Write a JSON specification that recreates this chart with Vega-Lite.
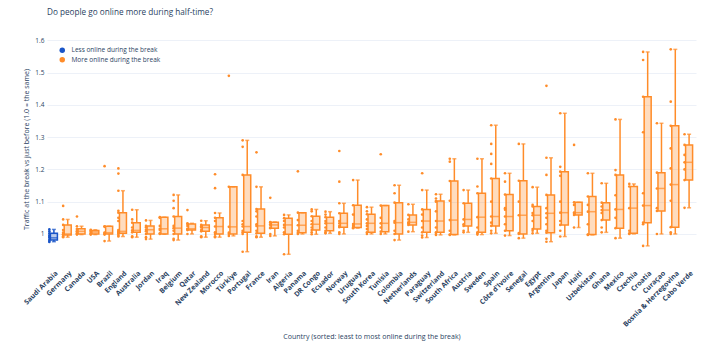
{
  "$schema": "https://vega.github.io/schema/vega-lite/v6.json",
  "autosize": {"type": "none"},
  "width": 649,
  "height": 233,
  "padding": {"left": 47, "top": 30, "right": 19, "bottom": 81},
  "background": "white",
  "config": {
    "font": "Open Sans",
    "view": {"stroke": null},
    "axis": {"labelColor": "#2a3f5f", "titleColor": "#2a3f5f", "titleFontWeight": "normal", "domain": false, "ticks": false},
    "axisY": {"labelOverlap": false, "tickCount": 7, "labelFontSize": 6.5, "labelPadding": 3, "grid": true, "gridColor": "#edf1f8", "gridWidth": 1, "format": "~g"}
  },
  "title": {"text": "Do people go online more during half-time?", "anchor": "start", "frame": "group", "offset": 13, "fontSize": 8.2, "fontWeight": "normal", "color": "#2a3f5f"},
  "datasets": {
    "boxes": [
      {"c": "Saudi Arabia", "g": "Less online during the break", "lo": 0.976, "q1": 0.981, "md": 0.988, "q3": 1.002, "hi": 1.014},
      {"c": "Germany", "g": "More online during the break", "lo": 0.99, "q1": 0.997, "md": 1.0, "q3": 1.028, "hi": 1.045},
      {"c": "Canada", "g": "More online during the break", "lo": 0.998, "q1": 1.0, "md": 1.008, "q3": 1.016, "hi": 1.024},
      {"c": "USA", "g": "More online during the break", "lo": 0.998, "q1": 1.0, "md": 1.006, "q3": 1.011, "hi": 1.013},
      {"c": "Brazil", "g": "More online during the break", "lo": 0.978, "q1": 1.0, "md": 1.004, "q3": 1.024, "hi": 1.024},
      {"c": "England", "g": "More online during the break", "lo": 0.992, "q1": 1.002, "md": 1.008, "q3": 1.066, "hi": 1.134},
      {"c": "Australia", "g": "More online during the break", "lo": 0.99, "q1": 1.005, "md": 1.011, "q3": 1.035, "hi": 1.075},
      {"c": "Jordan", "g": "More online during the break", "lo": 0.984, "q1": 1.0, "md": 1.013, "q3": 1.025, "hi": 1.042},
      {"c": "Iraq", "g": "More online during the break", "lo": 0.999, "q1": 1.0, "md": 1.016, "q3": 1.052, "hi": 1.052},
      {"c": "Belgium", "g": "More online during the break", "lo": 0.981, "q1": 1.0, "md": 1.018, "q3": 1.054, "hi": 1.121},
      {"c": "Qatar", "g": "More online during the break", "lo": 1.0, "q1": 1.012, "md": 1.016, "q3": 1.031, "hi": 1.033},
      {"c": "New Zealand", "g": "More online during the break", "lo": 0.99, "q1": 1.008, "md": 1.02, "q3": 1.028, "hi": 1.041},
      {"c": "Morocco", "g": "More online during the break", "lo": 0.99, "q1": 1.0, "md": 1.023, "q3": 1.05, "hi": 1.065},
      {"c": "Türkiye", "g": "More online during the break", "lo": 0.994, "q1": 1.0, "md": 1.022, "q3": 1.146, "hi": 1.146},
      {"c": "Portugal", "g": "More online during the break", "lo": 0.945, "q1": 1.005, "md": 1.023, "q3": 1.183, "hi": 1.29},
      {"c": "France", "g": "More online during the break", "lo": 0.99, "q1": 1.002, "md": 1.025, "q3": 1.077, "hi": 1.146},
      {"c": "Iran", "g": "More online during the break", "lo": 0.994, "q1": 1.018, "md": 1.028, "q3": 1.036, "hi": 1.037},
      {"c": "Algeria", "g": "More online during the break", "lo": 0.937, "q1": 0.999, "md": 1.028, "q3": 1.049, "hi": 1.059},
      {"c": "Panama", "g": "More online during the break", "lo": 1.0, "q1": 1.004, "md": 1.027, "q3": 1.066, "hi": 1.066},
      {"c": "DR Congo", "g": "More online during the break", "lo": 0.999, "q1": 1.012, "md": 1.03, "q3": 1.055, "hi": 1.076},
      {"c": "Ecuador", "g": "More online during the break", "lo": 1.002, "q1": 1.01, "md": 1.033, "q3": 1.052, "hi": 1.069},
      {"c": "Norway", "g": "More online during the break", "lo": 1.0, "q1": 1.021, "md": 1.033, "q3": 1.064, "hi": 1.095},
      {"c": "Uruguay", "g": "More online during the break", "lo": 1.018, "q1": 1.02, "md": 1.031, "q3": 1.089, "hi": 1.167},
      {"c": "South Korea", "g": "More online during the break", "lo": 1.0, "q1": 1.005, "md": 1.033, "q3": 1.061, "hi": 1.083},
      {"c": "Tunisia", "g": "More online during the break", "lo": 1.0, "q1": 1.007, "md": 1.033, "q3": 1.088, "hi": 1.088},
      {"c": "Colombia", "g": "More online during the break", "lo": 0.981, "q1": 1.0, "md": 1.035, "q3": 1.097, "hi": 1.151},
      {"c": "Netherlands", "g": "More online during the break", "lo": 1.007, "q1": 1.028, "md": 1.036, "q3": 1.059, "hi": 1.092},
      {"c": "Paraguay", "g": "More online during the break", "lo": 0.989, "q1": 1.005, "md": 1.04, "q3": 1.076, "hi": 1.136},
      {"c": "Switzerland", "g": "More online during the break", "lo": 0.997, "q1": 1.005, "md": 1.04, "q3": 1.102, "hi": 1.123},
      {"c": "South Africa", "g": "More online during the break", "lo": 0.997, "q1": 0.998, "md": 1.043, "q3": 1.164, "hi": 1.233},
      {"c": "Austria", "g": "More online during the break", "lo": 1.005, "q1": 1.025, "md": 1.045, "q3": 1.095, "hi": 1.136},
      {"c": "Sweden", "g": "More online during the break", "lo": 0.998, "q1": 1.005, "md": 1.052, "q3": 1.126, "hi": 1.233},
      {"c": "Spain", "g": "More online during the break", "lo": 1.002, "q1": 1.025, "md": 1.054, "q3": 1.172, "hi": 1.337},
      {"c": "Côte d'Ivoire", "g": "More online during the break", "lo": 0.995, "q1": 1.01, "md": 1.054, "q3": 1.122, "hi": 1.188},
      {"c": "Senegal", "g": "More online during the break", "lo": 0.987, "q1": 1.0, "md": 1.058, "q3": 1.165, "hi": 1.279},
      {"c": "Egypt", "g": "More online during the break", "lo": 1.002, "q1": 1.015, "md": 1.058, "q3": 1.085, "hi": 1.145},
      {"c": "Argentina", "g": "More online during the break", "lo": 0.976, "q1": 1.004, "md": 1.064, "q3": 1.121, "hi": 1.236},
      {"c": "Japan", "g": "More online during the break", "lo": 0.992, "q1": 1.028, "md": 1.066, "q3": 1.193, "hi": 1.374},
      {"c": "Haiti", "g": "More online during the break", "lo": 1.02, "q1": 1.059, "md": 1.066, "q3": 1.098, "hi": 1.098},
      {"c": "Uzbekistan", "g": "More online during the break", "lo": 0.997, "q1": 0.998, "md": 1.069, "q3": 1.116, "hi": 1.188},
      {"c": "Ghana", "g": "More online during the break", "lo": 1.005, "q1": 1.043, "md": 1.074, "q3": 1.097, "hi": 1.157},
      {"c": "Mexico", "g": "More online during the break", "lo": 0.987, "q1": 1.018, "md": 1.076, "q3": 1.183, "hi": 1.355},
      {"c": "Czechia", "g": "More online during the break", "lo": 1.0, "q1": 1.002, "md": 1.08, "q3": 1.147, "hi": 1.155},
      {"c": "Croatia", "g": "More online during the break", "lo": 0.963, "q1": 1.035, "md": 1.088, "q3": 1.425, "hi": 1.564},
      {"c": "Curaçao", "g": "More online during the break", "lo": 1.0, "q1": 1.071, "md": 1.141, "q3": 1.19, "hi": 1.343},
      {"c": "Bosnia & Herzegovina", "g": "More online during the break", "lo": 1.0, "q1": 1.021, "md": 1.153, "q3": 1.335, "hi": 1.572},
      {"c": "Cabo Verde", "g": "More online during the break", "lo": 1.081, "q1": 1.167, "md": 1.222, "q3": 1.276, "hi": 1.309}
    ],
    "pts": [
      {"c": "Saudi Arabia", "v": 0.975}, {"c": "Saudi Arabia", "v": 0.978}, {"c": "Saudi Arabia", "v": 0.982}, {"c": "Saudi Arabia", "v": 0.988}, {"c": "Saudi Arabia", "v": 0.991}, {"c": "Saudi Arabia", "v": 0.996}, {"c": "Saudi Arabia", "v": 1.002}, {"c": "Saudi Arabia", "v": 1.008}, {"c": "Saudi Arabia", "v": 1.014},
      {"c": "Germany", "v": 0.99}, {"c": "Germany", "v": 0.993}, {"c": "Germany", "v": 0.997}, {"c": "Germany", "v": 0.999}, {"c": "Germany", "v": 1.0}, {"c": "Germany", "v": 1.004}, {"c": "Germany", "v": 1.012}, {"c": "Germany", "v": 1.028}, {"c": "Germany", "v": 1.045}, {"c": "Germany", "v": 1.087},
      {"c": "Canada", "v": 0.998}, {"c": "Canada", "v": 1.0}, {"c": "Canada", "v": 1.002}, {"c": "Canada", "v": 1.006}, {"c": "Canada", "v": 1.008}, {"c": "Canada", "v": 1.012}, {"c": "Canada", "v": 1.016}, {"c": "Canada", "v": 1.024}, {"c": "Canada", "v": 1.054},
      {"c": "USA", "v": 0.998}, {"c": "USA", "v": 1.0}, {"c": "USA", "v": 1.002}, {"c": "USA", "v": 1.006}, {"c": "USA", "v": 1.009}, {"c": "USA", "v": 1.011}, {"c": "USA", "v": 1.013},
      {"c": "Brazil", "v": 0.978}, {"c": "Brazil", "v": 0.998}, {"c": "Brazil", "v": 1.0}, {"c": "Brazil", "v": 1.003}, {"c": "Brazil", "v": 1.004}, {"c": "Brazil", "v": 1.022}, {"c": "Brazil", "v": 1.024}, {"c": "Brazil", "v": 1.21},
      {"c": "England", "v": 0.992}, {"c": "England", "v": 0.995}, {"c": "England", "v": 1.0}, {"c": "England", "v": 1.002}, {"c": "England", "v": 1.005}, {"c": "England", "v": 1.008}, {"c": "England", "v": 1.012}, {"c": "England", "v": 1.04}, {"c": "England", "v": 1.05}, {"c": "England", "v": 1.066}, {"c": "England", "v": 1.072}, {"c": "England", "v": 1.134}, {"c": "England", "v": 1.187}, {"c": "England", "v": 1.203},
      {"c": "Australia", "v": 0.99}, {"c": "Australia", "v": 0.993}, {"c": "Australia", "v": 1.005}, {"c": "Australia", "v": 1.011}, {"c": "Australia", "v": 1.02}, {"c": "Australia", "v": 1.035}, {"c": "Australia", "v": 1.045}, {"c": "Australia", "v": 1.075},
      {"c": "Jordan", "v": 0.984}, {"c": "Jordan", "v": 0.99}, {"c": "Jordan", "v": 1.0}, {"c": "Jordan", "v": 1.008}, {"c": "Jordan", "v": 1.013}, {"c": "Jordan", "v": 1.02}, {"c": "Jordan", "v": 1.025}, {"c": "Jordan", "v": 1.042},
      {"c": "Iraq", "v": 1.0}, {"c": "Iraq", "v": 1.002}, {"c": "Iraq", "v": 1.012}, {"c": "Iraq", "v": 1.016}, {"c": "Iraq", "v": 1.025}, {"c": "Iraq", "v": 1.05}, {"c": "Iraq", "v": 1.052},
      {"c": "Belgium", "v": 0.981}, {"c": "Belgium", "v": 0.985}, {"c": "Belgium", "v": 1.0}, {"c": "Belgium", "v": 1.01}, {"c": "Belgium", "v": 1.018}, {"c": "Belgium", "v": 1.025}, {"c": "Belgium", "v": 1.054}, {"c": "Belgium", "v": 1.08}, {"c": "Belgium", "v": 1.103}, {"c": "Belgium", "v": 1.121},
      {"c": "Qatar", "v": 1.0}, {"c": "Qatar", "v": 1.012}, {"c": "Qatar", "v": 1.014}, {"c": "Qatar", "v": 1.016}, {"c": "Qatar", "v": 1.025}, {"c": "Qatar", "v": 1.031}, {"c": "Qatar", "v": 1.033}, {"c": "Qatar", "v": 1.074},
      {"c": "New Zealand", "v": 0.99}, {"c": "New Zealand", "v": 0.993}, {"c": "New Zealand", "v": 1.008}, {"c": "New Zealand", "v": 1.012}, {"c": "New Zealand", "v": 1.02}, {"c": "New Zealand", "v": 1.024}, {"c": "New Zealand", "v": 1.028}, {"c": "New Zealand", "v": 1.041},
      {"c": "Morocco", "v": 0.99}, {"c": "Morocco", "v": 0.993}, {"c": "Morocco", "v": 1.0}, {"c": "Morocco", "v": 1.005}, {"c": "Morocco", "v": 1.023}, {"c": "Morocco", "v": 1.04}, {"c": "Morocco", "v": 1.05}, {"c": "Morocco", "v": 1.065}, {"c": "Morocco", "v": 1.142}, {"c": "Morocco", "v": 1.185},
      {"c": "Türkiye", "v": 0.994}, {"c": "Türkiye", "v": 1.0}, {"c": "Türkiye", "v": 1.004}, {"c": "Türkiye", "v": 1.022}, {"c": "Türkiye", "v": 1.146}, {"c": "Türkiye", "v": 1.49},
      {"c": "Portugal", "v": 0.945}, {"c": "Portugal", "v": 1.0}, {"c": "Portugal", "v": 1.005}, {"c": "Portugal", "v": 1.01}, {"c": "Portugal", "v": 1.023}, {"c": "Portugal", "v": 1.03}, {"c": "Portugal", "v": 1.04}, {"c": "Portugal", "v": 1.183}, {"c": "Portugal", "v": 1.27}, {"c": "Portugal", "v": 1.29},
      {"c": "France", "v": 0.99}, {"c": "France", "v": 0.993}, {"c": "France", "v": 1.002}, {"c": "France", "v": 1.01}, {"c": "France", "v": 1.025}, {"c": "France", "v": 1.03}, {"c": "France", "v": 1.054}, {"c": "France", "v": 1.07}, {"c": "France", "v": 1.077}, {"c": "France", "v": 1.146}, {"c": "France", "v": 1.253},
      {"c": "Iran", "v": 0.994}, {"c": "Iran", "v": 1.0}, {"c": "Iran", "v": 1.018}, {"c": "Iran", "v": 1.02}, {"c": "Iran", "v": 1.028}, {"c": "Iran", "v": 1.03}, {"c": "Iran", "v": 1.036}, {"c": "Iran", "v": 1.037}, {"c": "Iran", "v": 1.112},
      {"c": "Algeria", "v": 0.937}, {"c": "Algeria", "v": 0.999}, {"c": "Algeria", "v": 1.005}, {"c": "Algeria", "v": 1.02}, {"c": "Algeria", "v": 1.028}, {"c": "Algeria", "v": 1.04}, {"c": "Algeria", "v": 1.049}, {"c": "Algeria", "v": 1.059},
      {"c": "Panama", "v": 1.0}, {"c": "Panama", "v": 1.004}, {"c": "Panama", "v": 1.01}, {"c": "Panama", "v": 1.027}, {"c": "Panama", "v": 1.043}, {"c": "Panama", "v": 1.066}, {"c": "Panama", "v": 1.194},
      {"c": "DR Congo", "v": 0.999}, {"c": "DR Congo", "v": 1.005}, {"c": "DR Congo", "v": 1.012}, {"c": "DR Congo", "v": 1.02}, {"c": "DR Congo", "v": 1.03}, {"c": "DR Congo", "v": 1.04}, {"c": "DR Congo", "v": 1.055}, {"c": "DR Congo", "v": 1.07}, {"c": "DR Congo", "v": 1.076},
      {"c": "Ecuador", "v": 1.002}, {"c": "Ecuador", "v": 1.005}, {"c": "Ecuador", "v": 1.01}, {"c": "Ecuador", "v": 1.02}, {"c": "Ecuador", "v": 1.033}, {"c": "Ecuador", "v": 1.04}, {"c": "Ecuador", "v": 1.052}, {"c": "Ecuador", "v": 1.06}, {"c": "Ecuador", "v": 1.069},
      {"c": "Norway", "v": 1.0}, {"c": "Norway", "v": 1.005}, {"c": "Norway", "v": 1.021}, {"c": "Norway", "v": 1.025}, {"c": "Norway", "v": 1.033}, {"c": "Norway", "v": 1.04}, {"c": "Norway", "v": 1.064}, {"c": "Norway", "v": 1.095}, {"c": "Norway", "v": 1.162}, {"c": "Norway", "v": 1.257},
      {"c": "Uruguay", "v": 1.018}, {"c": "Uruguay", "v": 1.02}, {"c": "Uruguay", "v": 1.025}, {"c": "Uruguay", "v": 1.031}, {"c": "Uruguay", "v": 1.06}, {"c": "Uruguay", "v": 1.089}, {"c": "Uruguay", "v": 1.167},
      {"c": "South Korea", "v": 1.0}, {"c": "South Korea", "v": 1.005}, {"c": "South Korea", "v": 1.015}, {"c": "South Korea", "v": 1.025}, {"c": "South Korea", "v": 1.033}, {"c": "South Korea", "v": 1.045}, {"c": "South Korea", "v": 1.061}, {"c": "South Korea", "v": 1.07}, {"c": "South Korea", "v": 1.083},
      {"c": "Tunisia", "v": 1.0}, {"c": "Tunisia", "v": 1.007}, {"c": "Tunisia", "v": 1.02}, {"c": "Tunisia", "v": 1.033}, {"c": "Tunisia", "v": 1.05}, {"c": "Tunisia", "v": 1.088}, {"c": "Tunisia", "v": 1.247},
      {"c": "Colombia", "v": 0.981}, {"c": "Colombia", "v": 1.0}, {"c": "Colombia", "v": 1.01}, {"c": "Colombia", "v": 1.035}, {"c": "Colombia", "v": 1.04}, {"c": "Colombia", "v": 1.097}, {"c": "Colombia", "v": 1.126}, {"c": "Colombia", "v": 1.151},
      {"c": "Netherlands", "v": 1.007}, {"c": "Netherlands", "v": 1.028}, {"c": "Netherlands", "v": 1.033}, {"c": "Netherlands", "v": 1.036}, {"c": "Netherlands", "v": 1.045}, {"c": "Netherlands", "v": 1.059}, {"c": "Netherlands", "v": 1.092},
      {"c": "Paraguay", "v": 0.989}, {"c": "Paraguay", "v": 0.995}, {"c": "Paraguay", "v": 1.005}, {"c": "Paraguay", "v": 1.02}, {"c": "Paraguay", "v": 1.04}, {"c": "Paraguay", "v": 1.06}, {"c": "Paraguay", "v": 1.076}, {"c": "Paraguay", "v": 1.136}, {"c": "Paraguay", "v": 1.188},
      {"c": "Switzerland", "v": 0.997}, {"c": "Switzerland", "v": 1.0}, {"c": "Switzerland", "v": 1.005}, {"c": "Switzerland", "v": 1.02}, {"c": "Switzerland", "v": 1.04}, {"c": "Switzerland", "v": 1.07}, {"c": "Switzerland", "v": 1.1}, {"c": "Switzerland", "v": 1.102}, {"c": "Switzerland", "v": 1.11}, {"c": "Switzerland", "v": 1.123},
      {"c": "South Africa", "v": 0.997}, {"c": "South Africa", "v": 0.998}, {"c": "South Africa", "v": 1.01}, {"c": "South Africa", "v": 1.043}, {"c": "South Africa", "v": 1.103}, {"c": "South Africa", "v": 1.164}, {"c": "South Africa", "v": 1.224}, {"c": "South Africa", "v": 1.233},
      {"c": "Austria", "v": 1.005}, {"c": "Austria", "v": 1.01}, {"c": "Austria", "v": 1.025}, {"c": "Austria", "v": 1.03}, {"c": "Austria", "v": 1.045}, {"c": "Austria", "v": 1.095}, {"c": "Austria", "v": 1.136},
      {"c": "Sweden", "v": 0.998}, {"c": "Sweden", "v": 1.002}, {"c": "Sweden", "v": 1.005}, {"c": "Sweden", "v": 1.02}, {"c": "Sweden", "v": 1.052}, {"c": "Sweden", "v": 1.126}, {"c": "Sweden", "v": 1.147}, {"c": "Sweden", "v": 1.233},
      {"c": "Spain", "v": 1.002}, {"c": "Spain", "v": 1.01}, {"c": "Spain", "v": 1.025}, {"c": "Spain", "v": 1.035}, {"c": "Spain", "v": 1.054}, {"c": "Spain", "v": 1.1}, {"c": "Spain", "v": 1.172}, {"c": "Spain", "v": 1.217}, {"c": "Spain", "v": 1.248}, {"c": "Spain", "v": 1.279}, {"c": "Spain", "v": 1.337},
      {"c": "Côte d'Ivoire", "v": 0.995}, {"c": "Côte d'Ivoire", "v": 1.01}, {"c": "Côte d'Ivoire", "v": 1.03}, {"c": "Côte d'Ivoire", "v": 1.054}, {"c": "Côte d'Ivoire", "v": 1.075}, {"c": "Côte d'Ivoire", "v": 1.08}, {"c": "Côte d'Ivoire", "v": 1.122}, {"c": "Côte d'Ivoire", "v": 1.162}, {"c": "Côte d'Ivoire", "v": 1.188},
      {"c": "Senegal", "v": 0.987}, {"c": "Senegal", "v": 1.0}, {"c": "Senegal", "v": 1.003}, {"c": "Senegal", "v": 1.058}, {"c": "Senegal", "v": 1.1}, {"c": "Senegal", "v": 1.165}, {"c": "Senegal", "v": 1.279},
      {"c": "Egypt", "v": 1.002}, {"c": "Egypt", "v": 1.01}, {"c": "Egypt", "v": 1.015}, {"c": "Egypt", "v": 1.04}, {"c": "Egypt", "v": 1.058}, {"c": "Egypt", "v": 1.065}, {"c": "Egypt", "v": 1.085}, {"c": "Egypt", "v": 1.09}, {"c": "Egypt", "v": 1.145},
      {"c": "Argentina", "v": 0.976}, {"c": "Argentina", "v": 0.985}, {"c": "Argentina", "v": 1.004}, {"c": "Argentina", "v": 1.01}, {"c": "Argentina", "v": 1.03}, {"c": "Argentina", "v": 1.05}, {"c": "Argentina", "v": 1.064}, {"c": "Argentina", "v": 1.08}, {"c": "Argentina", "v": 1.121}, {"c": "Argentina", "v": 1.183}, {"c": "Argentina", "v": 1.236}, {"c": "Argentina", "v": 1.459},
      {"c": "Japan", "v": 0.992}, {"c": "Japan", "v": 1.01}, {"c": "Japan", "v": 1.028}, {"c": "Japan", "v": 1.04}, {"c": "Japan", "v": 1.066}, {"c": "Japan", "v": 1.1}, {"c": "Japan", "v": 1.18}, {"c": "Japan", "v": 1.193}, {"c": "Japan", "v": 1.208}, {"c": "Japan", "v": 1.374},
      {"c": "Haiti", "v": 1.02}, {"c": "Haiti", "v": 1.059}, {"c": "Haiti", "v": 1.065}, {"c": "Haiti", "v": 1.066}, {"c": "Haiti", "v": 1.09}, {"c": "Haiti", "v": 1.098}, {"c": "Haiti", "v": 1.276},
      {"c": "Uzbekistan", "v": 0.997}, {"c": "Uzbekistan", "v": 0.998}, {"c": "Uzbekistan", "v": 1.03}, {"c": "Uzbekistan", "v": 1.069}, {"c": "Uzbekistan", "v": 1.09}, {"c": "Uzbekistan", "v": 1.116}, {"c": "Uzbekistan", "v": 1.188},
      {"c": "Ghana", "v": 1.005}, {"c": "Ghana", "v": 1.02}, {"c": "Ghana", "v": 1.043}, {"c": "Ghana", "v": 1.065}, {"c": "Ghana", "v": 1.074}, {"c": "Ghana", "v": 1.085}, {"c": "Ghana", "v": 1.097}, {"c": "Ghana", "v": 1.157},
      {"c": "Mexico", "v": 0.987}, {"c": "Mexico", "v": 1.018}, {"c": "Mexico", "v": 1.05}, {"c": "Mexico", "v": 1.076}, {"c": "Mexico", "v": 1.12}, {"c": "Mexico", "v": 1.183}, {"c": "Mexico", "v": 1.198}, {"c": "Mexico", "v": 1.355},
      {"c": "Czechia", "v": 1.0}, {"c": "Czechia", "v": 1.002}, {"c": "Czechia", "v": 1.01}, {"c": "Czechia", "v": 1.08}, {"c": "Czechia", "v": 1.147}, {"c": "Czechia", "v": 1.155},
      {"c": "Croatia", "v": 0.963}, {"c": "Croatia", "v": 1.03}, {"c": "Croatia", "v": 1.035}, {"c": "Croatia", "v": 1.088}, {"c": "Croatia", "v": 1.126}, {"c": "Croatia", "v": 1.315}, {"c": "Croatia", "v": 1.425}, {"c": "Croatia", "v": 1.539}, {"c": "Croatia", "v": 1.564},
      {"c": "Curaçao", "v": 1.0}, {"c": "Curaçao", "v": 1.071}, {"c": "Curaçao", "v": 1.08}, {"c": "Curaçao", "v": 1.141}, {"c": "Curaçao", "v": 1.19}, {"c": "Curaçao", "v": 1.343},
      {"c": "Bosnia & Herzegovina", "v": 1.0}, {"c": "Bosnia & Herzegovina", "v": 1.005}, {"c": "Bosnia & Herzegovina", "v": 1.021}, {"c": "Bosnia & Herzegovina", "v": 1.103}, {"c": "Bosnia & Herzegovina", "v": 1.153}, {"c": "Bosnia & Herzegovina", "v": 1.203}, {"c": "Bosnia & Herzegovina", "v": 1.265}, {"c": "Bosnia & Herzegovina", "v": 1.335}, {"c": "Bosnia & Herzegovina", "v": 1.41}, {"c": "Bosnia & Herzegovina", "v": 1.572},
      {"c": "Cabo Verde", "v": 1.081}, {"c": "Cabo Verde", "v": 1.167}, {"c": "Cabo Verde", "v": 1.2}, {"c": "Cabo Verde", "v": 1.222}, {"c": "Cabo Verde", "v": 1.245}, {"c": "Cabo Verde", "v": 1.276}, {"c": "Cabo Verde", "v": 1.309}
    ]
  },
  "encoding": {
    "x": {
      "field": "c",
      "type": "nominal",
      "scale": {
        "type": "band",
        "paddingInner": 0,
        "paddingOuter": 0,
        "domain": ["Saudi Arabia", "Germany", "Canada", "USA", "Brazil", "England", "Australia", "Jordan", "Iraq", "Belgium", "Qatar", "New Zealand", "Morocco", "Türkiye", "Portugal", "France", "Iran", "Algeria", "Panama", "DR Congo", "Ecuador", "Norway", "Uruguay", "South Korea", "Tunisia", "Colombia", "Netherlands", "Paraguay", "Switzerland", "South Africa", "Austria", "Sweden", "Spain", "Côte d'Ivoire", "Senegal", "Egypt", "Argentina", "Japan", "Haiti", "Uzbekistan", "Ghana", "Mexico", "Czechia", "Croatia", "Curaçao", "Bosnia & Herzegovina", "Cabo Verde"]
      },
      "axis": {
        "title": "Country (sorted: least to most online during the break)",
        "titleFontSize": 7,
        "titleY": 73,
        "titleBaseline": "middle",
        "labelAngle": -45,
        "labelFontSize": 7,
        "labelFontWeight": "bold",
        "labelPadding": 6,
        "labelOverlap": false,
        "grid": false
      }
    },
    "color": {
      "field": "g",
      "type": "nominal",
      "scale": {"domain": ["Less online during the break", "More online during the break"], "range": ["#1a55c8", "#ff8c29"]},
      "legend": {
        "title": null,
        "orient": "none",
        "legendX": 12,
        "legendY": 17,
        "symbolType": "circle",
        "symbolSize": 30,
        "symbolStrokeWidth": 0,
        "symbolOpacity": 1,
        "labelFontSize": 6.5,
        "labelColor": "#2a3f5f",
        "labelOffset": 6,
        "rowPadding": 2.5,
        "padding": 0
      }
    }
  },
  "layer": [
    {
      "data": {"name": "boxes"},
      "mark": {"type": "rule", "strokeWidth": 1.5},
      "encoding": {
        "y": {
          "field": "lo",
          "type": "quantitative",
          "scale": {"domain": [0.91, 1.632], "nice": false, "zero": false},
          "axis": {
            "title": "Traffic at the break vs just before  (1.0 = the same)",
            "titleFontSize": 7,
            "titleX": -21,
            "titleY": 119,
            "titleAngle": -90,
            "titleAlign": "center",
            "titleBaseline": "middle",
            "values": [1, 1.1, 1.2, 1.3, 1.4, 1.5, 1.6]
          }
        },
        "y2": {"field": "q1"}
      }
    },
    {
      "data": {"name": "boxes"},
      "mark": {"type": "rule", "strokeWidth": 1.5},
      "encoding": {"y": {"field": "q3", "type": "quantitative"}, "y2": {"field": "hi"}}
    },
    {
      "data": {"name": "boxes"},
      "mark": {"type": "tick", "size": 4, "thickness": 1.5},
      "encoding": {"y": {"field": "lo", "type": "quantitative"}}
    },
    {
      "data": {"name": "boxes"},
      "mark": {"type": "tick", "size": 4, "thickness": 1.5},
      "encoding": {"y": {"field": "hi", "type": "quantitative"}}
    },
    {
      "data": {"name": "boxes"},
      "mark": {"type": "bar", "size": 7, "fillOpacity": 0.3, "strokeWidth": 1.5},
      "encoding": {
        "y": {"field": "q1", "type": "quantitative"},
        "y2": {"field": "q3"},
        "stroke": {"field": "g", "type": "nominal", "scale": {"domain": ["Less online during the break", "More online during the break"], "range": ["#1a55c8", "#ff8c29"]}, "legend": null}
      }
    },
    {
      "data": {"name": "boxes"},
      "mark": {"type": "tick", "size": 7, "thickness": 1.5},
      "encoding": {"y": {"field": "md", "type": "quantitative"}}
    },
    {
      "mark": {"type": "rule", "strokeDash": [2, 2], "strokeWidth": 1},
      "encoding": {"y": {"datum": 1}, "x": {"value": 0}, "x2": {"value": 649}, "color": {"value": "#8a8a8a"}}
    },
    {
      "data": {"name": "pts"},
      "transform": [{"lookup": "c", "from": {"data": {"name": "boxes"}, "key": "c", "fields": ["g"]}}],
      "mark": {"type": "circle", "size": 7, "opacity": 1},
      "encoding": {
        "x": {"field": "c", "type": "nominal", "bandPosition": 0.17},
        "y": {"field": "v", "type": "quantitative", "axis": {"values": [1, 1.1, 1.2, 1.3, 1.4, 1.5, 1.6]}}
      }
    }
  ]
}
